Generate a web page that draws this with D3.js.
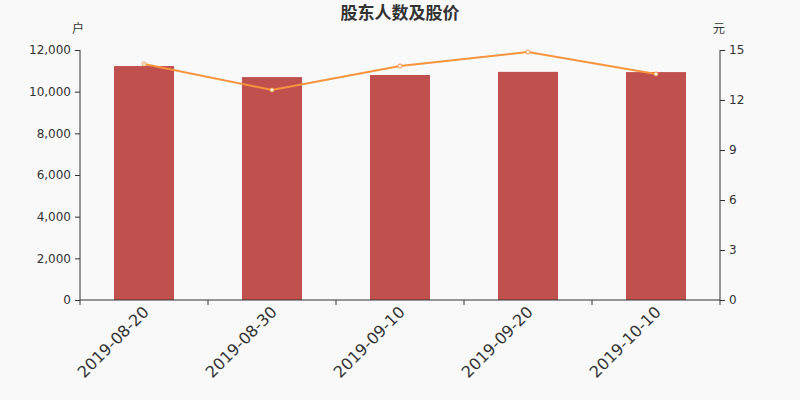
<!DOCTYPE html>
<html>
<head>
<meta charset="utf-8">
<style>
  body { margin: 0; background: #f9f9f9; }
  #chart { font-family: 'DejaVu Sans', sans-serif; }
  #chart .axis text { fill: #333; font-family: 'DejaVu Sans', sans-serif; }
  #chart .axis path, #chart .axis line { stroke: #333; }
</style>
</head>
<body>
<div id="chart"></div>
<script src="https://d3js.org/d3.v7.min.js"></script>
<script>
  var dates = ["2019-08-20", "2019-08-30", "2019-09-10", "2019-09-20", "2019-10-10"];
  var holders = [11230, 10700, 10800, 10950, 10940];
  var prices = [14.16, 12.6, 14.04, 14.88, 13.56];
  var leftTicks = [0, 2000, 4000, 6000, 8000, 10000, 12000];
  var rightTicks = [0, 3, 6, 9, 12, 15];

  var width = 800, height = 400;
  var margin = { top: 50, right: 80, bottom: 100, left: 80 };
  var innerW = width - margin.left - margin.right,
    innerH = height - margin.top - margin.bottom;

  var svg = d3.select("#chart").append("svg")
    .attr("width", width).attr("height", height)
    .style("background", "#f9f9f9");

  var g = svg.append("g")
    .attr("transform", "translate(" + margin.left + "," + margin.top + ")");

  var x = d3.scaleBand().domain(dates).range([0, innerW]);
  var yL = d3.scaleLinear().domain([0, 12000]).range([innerH, 0]);
  var yR = d3.scaleLinear().domain([0, 15]).range([innerH, 0]);
  var barW = 60;

  // title and units
  svg.append("text")
    .attr("x", width / 2).attr("y", 19)
    .attr("text-anchor", "middle")
    .style("font-family", "'Noto Sans CJK SC', sans-serif")
    .style("font-size", "17px").style("font-weight", "bold")
    .style("fill", "#333")
    .text("股东人数及股价");
  svg.append("text")
    .attr("x", 78).attr("y", 33)
    .attr("text-anchor", "middle")
    .style("font-family", "'Noto Sans CJK SC', sans-serif")
    .style("font-size", "12px").style("fill", "#333")
    .text("户");
  svg.append("text")
    .attr("x", 719).attr("y", 33)
    .attr("text-anchor", "middle")
    .style("font-family", "'Noto Sans CJK SC', sans-serif")
    .style("font-size", "12px").style("fill", "#333")
    .text("元");

  // bars
  g.selectAll("rect.bar")
    .data(holders)
    .enter().append("rect")
    .attr("class", "bar")
    .attr("x", function(d, i) { return x(dates[i]) + x.bandwidth() / 2 - barW / 2; })
    .attr("y", function(d) { return yL(d); })
    .attr("width", barW)
    .attr("height", function(d) { return innerH - yL(d); })
    .style("fill", "#c0504d");

  // axes
  var left = g.append("g").attr("class", "axis")
    .call(d3.axisLeft(yL).tickValues(leftTicks).tickSize(5).tickPadding(4).tickFormat(d3.format(",")));
  var right = g.append("g").attr("class", "axis")
    .attr("transform", "translate(" + innerW + ",0)")
    .call(d3.axisRight(yR).tickValues(rightTicks).tickSize(5).tickPadding(4));
  [left, right].forEach(function(a) {
    a.selectAll("text").style("font-size", "12px");
    a.select(".domain").attr("d", "M0,0V" + innerH);
  });

  var bottom = g.append("g").attr("class", "axis")
    .attr("transform", "translate(0," + innerH + ")")
    .call(d3.axisBottom(x).tickSize(0));
  bottom.select(".domain").attr("d", "M0,0H" + innerW);
  bottom.selectAll(".tick text")
    .style("font-size", "16px")
    .attr("text-anchor", "end")
    .attr("x", 0).attr("y", 0).attr("dy", 0)
    .attr("transform", "translate(6,13) rotate(-45)");
  // boundary ticks between categories
  var bounds = dates.map(function(d) { return x(d); }).concat([innerW]);
  bottom.selectAll("line.bound")
    .data(bounds)
    .enter().append("line")
    .attr("class", "bound")
    .attr("x1", function(d) { return d; }).attr("x2", function(d) { return d; })
    .attr("y1", 0).attr("y2", 5)
    .style("stroke", "#333");

  // price line
  var line = d3.line()
    .x(function(d, i) { return x(dates[i]) + x.bandwidth() / 2; })
    .y(function(d) { return yR(d); });
  g.append("path")
    .datum(prices)
    .attr("d", line)
    .style("fill", "none")
    .style("stroke", "#f7943e")
    .style("stroke-width", 2);
  g.selectAll("circle.pt")
    .data(prices)
    .enter().append("circle")
    .attr("class", "pt")
    .attr("cx", function(d, i) { return x(dates[i]) + x.bandwidth() / 2; })
    .attr("cy", function(d) { return yR(d); })
    .attr("r", 2)
    .style("fill", "#fff")
    .style("stroke", "#f7943e")
    .style("stroke-width", 1);
</script>
</body>
</html>
